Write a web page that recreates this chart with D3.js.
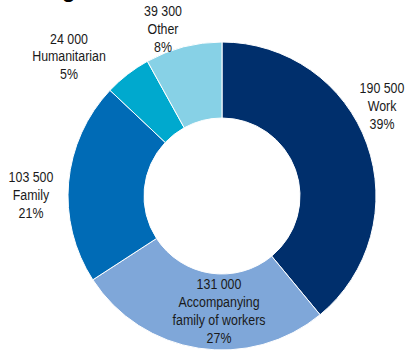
<!DOCTYPE html>
<html>
<head>
<meta charset="utf-8">
<script src="https://cdn.jsdelivr.net/npm/d3@7"></script>
<style>
  html, body { margin: 0; padding: 0; background: #ffffff; }
  svg { display: block; }
  .lbl { font-family: "Liberation Sans", Arial, sans-serif; font-size: 15.5px; fill: #1a1a1a; }
  .ttl { font-family: "Liberation Sans", Arial, sans-serif; font-weight: bold; font-size: 22px; fill: #000; }
</style>
</head>
<body>
<script>
// ---- data ----
const categories = ["Work", "Accompanying family of workers", "Family", "Humanitarian", "Other"];
const values = [190500, 131000, 103500, 24000, 39300];
const valueLabels = ["190 500", "131 000", "103 500", "24 000", "39 300"];
const nameLines = [["Work"], ["Accompanying", "family of workers"], ["Family"], ["Humanitarian"], ["Other"]];
const percentLabels = ["39%", "27%", "21%", "5%", "8%"];

// ---- layout / style ----
const W = 406, H = 355;
const colors = ["#002f6c", "#7fa7d9", "#006bb6", "#00a9ce", "#87d1e6"];
const cx = 222, cy = 196, outerR = 154, innerR = 78;
// label anchors (center x, first baseline y)
const labelAnchor = [[382, 93], [219, 289], [31, 182], [69, 43.5], [163, 16]];
const lineH = 18;
const narrow = 0.8;

const svg = d3.select("body").append("svg").attr("width", W).attr("height", H);

// cut-off title descender
svg.append("text").attr("class", "ttl").attr("x", 62).attr("y", -3).text("g");

const pie = d3.pie().sort(null).value(d => d)(values);
const arc = d3.arc().innerRadius(innerR).outerRadius(outerR);

const g = svg.append("g").attr("transform", `translate(${cx},${cy})`);
g.selectAll("path").data(pie).join("path")
  .attr("d", arc)
  .attr("fill", (d, i) => colors[i])
  .attr("stroke", "#ffffff")
  .attr("stroke-width", 1);

categories.forEach((c, i) => {
  const lines = [valueLabels[i], ...nameLines[i], percentLabels[i]];
  const t = svg.append("text").attr("class", "lbl").attr("text-anchor", "middle")
    .attr("transform", `translate(${labelAnchor[i][0]},${labelAnchor[i][1]}) scale(${narrow},1)`);
  lines.forEach((l, j) => {
    t.append("tspan").attr("x", 0).attr("y", j * lineH).text(l);
  });
});
</script>
</body>
</html>
